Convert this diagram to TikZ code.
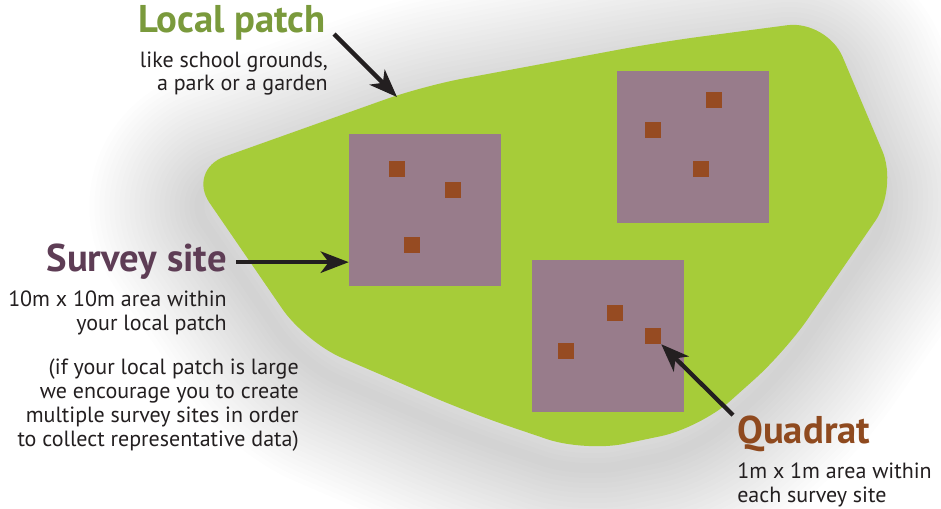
\documentclass[tikz,border=0pt]{standalone}
\usepackage{fontspec}
\setmainfont{PT Sans}
\usetikzlibrary{arrows.meta}

\definecolor{patchgreen}{RGB}{166,204,57}
\definecolor{patchtitle}{RGB}{122,154,60}
\definecolor{sitefill}{RGB}{152,124,139}
\definecolor{sitetitle}{RGB}{94,61,85}
\definecolor{quadfill}{RGB}{150,75,34}
\definecolor{quadtitle}{RGB}{143,74,31}
\definecolor{bodytext}{RGB}{35,31,32}
\definecolor{shadowtone}{RGB}{70,55,70}

% outline of the local patch (1 unit = 1px, y downwards)
\def\patchoutline{(187,170) -- (423,86) -- (660,42) -- (827,20) -- (898,188) -- (785,352) -- (700,428) -- (585,452) -- (470,413) -- (305,342) -- cycle}

\tikzset{
  sitebox/.style={fill=sitefill, draw=none, minimum size=114pt, inner sep=0pt},
  quadbox/.style={fill=quadfill, draw=none, minimum size=12pt, inner sep=0pt},
  pointer/.style={draw=bodytext, line width=3.2pt,
    -{Stealth[length=21pt, width=16pt, inset=6pt]}},
  bigtitle/.style={font=\fontsize{29}{32}\selectfont\bfseries, inner sep=0pt},
  bodylines/.style={font=\fontsize{16.5}{17.8}\selectfont, text=bodytext, inner sep=0pt},
}

\begin{document}
\begin{tikzpicture}[x=0.75pt, y=-0.75pt]
\useasboundingbox (0,0) rectangle (941,509);
\fill[white] (0,0) rectangle (941,509);

% soft shadow under the patch
\foreach \w in {220,210,...,10}
  \draw[shadowtone, opacity=0.006, line width=\w*0.75pt, line join=round,
        rounded corners=30pt, shift={(-4,22)}] \patchoutline;

% the local patch
\fill[patchgreen, rounded corners=30pt] \patchoutline;

% survey sites
\node[sitebox] (s1) at (425,210) {};
\node[sitebox] (s2) at (693,147) {};
\node[sitebox] (s3) at (608,336) {};

% quadrats
\node[quadbox] (q11) at (397,169) {};
\node[quadbox] (q12) at (453,190) {};
\node[quadbox] (q13) at (412,245) {};
\node[quadbox] (q21) at (714,100) {};
\node[quadbox] (q22) at (653,130) {};
\node[quadbox] (q23) at (701,169) {};
\node[quadbox] (q31) at (615,313) {};
\node[quadbox] (q32) at (653,336) {};
\node[quadbox] (q33) at (566,351) {};

% labels (multi-line nodes are placed by the baseline of their last line)
\node[bigtitle, text=patchtitle, anchor=base east] (lpt) at (326,33) {Local patch};
\node[bodylines, align=right, anchor=base east] (lpd) at (328,91)
  {like school grounds,\\a park or a garden};

\node[bigtitle, text=sitetitle, anchor=base east] (sst) at (227,272) {Survey site};
\node[bodylines, align=right, anchor=base east] (ssd) at (227,330)
  {10m x 10m area within\\your local patch};
\node[bodylines, align=right, anchor=base east] (ssn) at (299,446)
  {(if your local patch is large\\we encourage you to create\\multiple survey sites in order\\to collect representative data)};

\node[bigtitle, text=quadtitle, anchor=base west] (qt) at (737,443) {Quadrat};
\node[bodylines, align=left, anchor=base west] (qd) at (737,502)
  {1m x 1m area within\\each survey site};

% pointers
\coordinate (lpfrom) at (334,34);
\coordinate (lpedge) at (397,97);
\draw[pointer] (lpfrom) -- (lpedge);
\draw[pointer] ([xshift=7pt]sst.east) -- (sst.east -| s1.west);
\draw[pointer] ([shift={(-4,0)}]qt.north west) -- (q32.south east);
\end{tikzpicture}
\end{document}
